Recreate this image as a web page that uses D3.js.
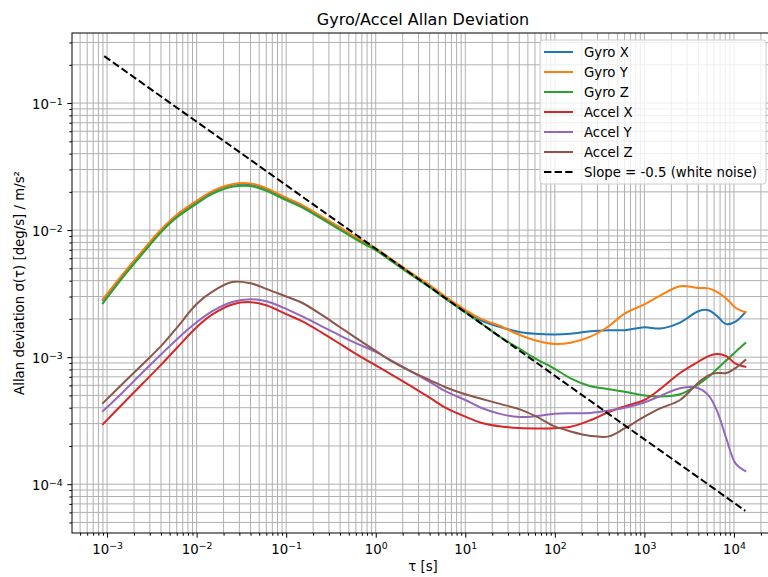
<!DOCTYPE html>
<html><head><meta charset="utf-8">
<script src="https://cdn.jsdelivr.net/npm/d3@7"></script>
<style>body{margin:0;background:#fff;overflow:hidden} text{font-family:"DejaVu Sans",sans-serif}</style>
</head><body><svg id="c" width="768" height="577"></svg>
<script>
// ---- data ----
const tau = [0.0009, 0.0015, 0.0025, 0.004, 0.006, 0.01, 0.015, 0.025, 0.04, 0.06,
  0.1, 0.15, 0.25, 0.4, 0.6, 1, 1.5, 2.5, 4, 6,
  10, 15, 25, 40, 60, 100, 150, 250, 400, 600,
  1000, 1500, 2500, 4000, 5200, 6500, 8200, 10400, 13400];
const gyroX = [2.82e-3, 4.45e-3, 6.8e-3, 9.95e-3, 1.30e-2, 1.675e-2, 2.0e-2, 2.27e-2, 2.3e-2, 2.11e-2,
  1.775e-2, 1.555e-2, 1.26e-2, 1.035e-2, 8.67e-3, 7.1e-3, 5.81e-3, 4.53e-3, 3.64e-3, 2.96e-3,
  2.32e-3, 1.95e-3, 1.72e-3, 1.58e-3, 1.53e-3, 1.51e-3, 1.53e-3, 1.6e-3, 1.63e-3, 1.63e-3,
  1.72e-3, 1.68e-3, 1.87e-3, 2.3e-3, 2.34e-3, 2.1e-3, 1.82e-3, 1.9e-3, 2.26e-3];
const gyroY = [2.86e-3, 4.5e-3, 6.9e-3, 1.01e-2, 1.32e-2, 1.70e-2, 2.03e-2, 2.30e-2, 2.33e-2, 2.14e-2,
  1.80e-2, 1.58e-2, 1.28e-2, 1.05e-2, 8.8e-3, 7.2e-3, 5.9e-3, 4.6e-3, 3.7e-3, 3.0e-3,
  2.36e-3, 2.0e-3, 1.75e-3, 1.5e-3, 1.36e-3, 1.27e-3, 1.3e-3, 1.45e-3, 1.75e-3, 2.2e-3,
  2.6e-3, 3.05e-3, 3.62e-3, 3.5e-3, 3.48e-3, 3.25e-3, 2.9e-3, 2.45e-3, 2.26e-3];
const gyroZ = [2.66e-3, 4.25e-3, 6.55e-3, 9.6e-3, 1.255e-2, 1.615e-2, 1.93e-2, 2.19e-2, 2.22e-2, 2.04e-2,
  1.72e-2, 1.51e-2, 1.225e-2, 1.005e-2, 8.45e-3, 6.95e-3, 5.7e-3, 4.43e-3, 3.55e-3, 2.88e-3,
  2.25e-3, 1.85e-3, 1.43e-3, 1.17e-3, 9.8e-4, 8.1e-4, 6.8e-4, 5.9e-4, 5.6e-4, 5.35e-4,
  5.0e-4, 4.9e-4, 5.1e-4, 6.1e-4, 7.0e-4, 8.1e-4, 9.4e-4, 1.1e-3, 1.29e-3];
const accelX = [2.97e-4, 4.3e-4, 6.2e-4, 8.7e-4, 1.18e-3, 1.72e-3, 2.17e-3, 2.6e-3, 2.71e-3, 2.56e-3,
  2.18e-3, 1.92e-3, 1.56e-3, 1.27e-3, 1.06e-3, 8.6e-4, 7.3e-4, 5.9e-4, 4.8e-4, 4.0e-4,
  3.4e-4, 3.05e-4, 2.85e-4, 2.77e-4, 2.75e-4, 2.76e-4, 2.83e-4, 3.19e-4, 3.7e-4, 4.1e-4,
  4.6e-4, 5.6e-4, 7.5e-4, 9.2e-4, 1.02e-3, 1.06e-3, 1.02e-3, 8.9e-4, 8.4e-4];
const accelY = [3.76e-4, 5.3e-4, 7.6e-4, 1.05e-3, 1.38e-3, 1.88e-3, 2.3e-3, 2.72e-3, 2.86e-3, 2.75e-3,
  2.4e-3, 2.1e-3, 1.75e-3, 1.48e-3, 1.29e-3, 1.1e-3, 9.4e-4, 7.7e-4, 6.4e-4, 5.4e-4,
  4.6e-4, 4.0e-4, 3.56e-4, 3.38e-4, 3.42e-4, 3.58e-4, 3.62e-4, 3.64e-4, 3.8e-4, 4.0e-4,
  4.4e-4, 4.95e-4, 5.7e-4, 5.7e-4, 5.0e-4, 3.75e-4, 2.3e-4, 1.46e-4, 1.27e-4];
const accelZ = [4.35e-4, 6.2e-4, 8.8e-4, 1.22e-3, 1.7e-3, 2.62e-3, 3.28e-3, 3.9e-3, 3.82e-3, 3.45e-3,
  3.0e-3, 2.68e-3, 2.15e-3, 1.72e-3, 1.42e-3, 1.12e-3, 9.3e-4, 7.7e-4, 6.6e-4, 5.8e-4,
  5.1e-4, 4.7e-4, 4.27e-4, 3.9e-4, 3.45e-4, 2.85e-4, 2.6e-4, 2.4e-4, 2.38e-4, 2.75e-4,
  3.4e-4, 3.95e-4, 4.6e-4, 6.3e-4, 7.2e-4, 7.5e-4, 7.5e-4, 8.2e-4, 9.5e-4];
const seriesNames = ["Gyro X", "Gyro Y", "Gyro Z", "Accel X", "Accel Y", "Accel Z"];
const seriesValues = [gyroX, gyroY, gyroZ, accelX, accelY, accelZ];
const seriesColors = ["#1f77b4", "#ff7f0e", "#2ca02c", "#d62728", "#9467bd", "#8c564b"];
const slopeName = "Slope = -0.5 (white noise)";
const slopeTau = [0.00093, 13400];
const slopeVal = [0.234, 6.17e-5];
const xTickVals = [1e-3, 1e-2, 1e-1, 1e0, 1e1, 1e2, 1e3, 1e4];
const yTickVals = [1e-4, 1e-3, 1e-2, 1e-1];

// ---- layout ----
const L = 72, T = 33, R = 774, B = 533;
const FS = 13.3, LW = 2.0, DASH = "7.4,3.2";
const svg = d3.select("#c");
const x = d3.scaleLog().domain([4.06e-4, 2.8e4]).range([L, R]);
const y = d3.scaleLog().domain([4.13e-5, 0.356]).range([B, T]);

function minorVals(sc) {
  const [a, b] = sc.domain().slice().sort((p, q) => p - q);
  const out = [];
  for (let e = Math.floor(Math.log10(a)); e <= Math.ceil(Math.log10(b)); e++)
    for (let k = 1; k <= 9; k++) { const v = k * Math.pow(10, e); if (v >= a && v <= b) out.push(v); }
  return out;
}
const xAll = minorVals(x), yAll = minorVals(y);
const isMajor = (v, arr) => arr.some(m => Math.abs(m - v) / m < 1e-6);

svg.append("defs").append("clipPath").attr("id", "clip")
  .append("rect").attr("x", L).attr("y", T).attr("width", R - L).attr("height", B - T);

// grid
const grid = svg.append("g").attr("stroke", "#b0b0b0").attr("stroke-width", 1.0);
grid.selectAll(".gx").data(xAll).join("line")
  .attr("x1", d => x(d)).attr("x2", d => x(d)).attr("y1", T).attr("y2", B);
grid.selectAll(".gy").data(yAll).join("line")
  .attr("y1", d => y(d)).attr("y2", d => y(d)).attr("x1", L).attr("x2", R);

// lines
const plot = svg.append("g").attr("clip-path", "url(#clip)");
const line = d3.line().x(d => x(d[0])).y(d => y(d[1])).curve(d3.curveCatmullRom.alpha(0.5));
seriesValues.forEach((vals, i) => {
  plot.append("path").datum(tau.map((t, j) => [t, vals[j]]))
    .attr("d", line).attr("fill", "none").attr("stroke", seriesColors[i]).attr("stroke-width", LW)
    .attr("stroke-linejoin", "round").attr("stroke-linecap", "square");
});
plot.append("path").datum(slopeTau.map((t, j) => [t, slopeVal[j]]))
  .attr("d", d3.line().x(d => x(d[0])).y(d => y(d[1])))
  .attr("fill", "none").attr("stroke", "#000").attr("stroke-width", LW).attr("stroke-dasharray", DASH);

// axes
function sup(sel) {
  sel.each(function (d) {
    const e = Math.round(Math.log10(d));
    const t = d3.select(this); t.text("");
    t.append("tspan").text("10");
    t.append("tspan").attr("dy", "-0.45em").attr("font-size", (FS * 0.7) + "px").text(e < 0 ? "\u2212" + (-e) : String(e));
  });
}
const gx = svg.append("g").attr("transform", `translate(0,${B})`);
gx.call(d3.axisBottom(x).tickValues(xAll.filter(v => !isMajor(v, xTickVals))).tickSize(2.7).tickFormat(""));
gx.select(".domain").remove();
const gx2 = svg.append("g").attr("transform", `translate(0,${B})`);
gx2.call(d3.axisBottom(x).tickValues(xTickVals).tickSize(4.7).tickFormat(d => d));
gx2.select(".domain").remove();
gx2.selectAll("text").attr("y", 20.5).attr("dy", null).attr("font-size", FS + "px").attr("fill", "#000").call(sup);

const gy = svg.append("g").attr("transform", `translate(${L},0)`);
gy.call(d3.axisLeft(y).tickValues(yAll.filter(v => !isMajor(v, yTickVals))).tickSize(2.7).tickFormat(""));
gy.select(".domain").remove();
const gy2 = svg.append("g").attr("transform", `translate(${L},0)`);
gy2.call(d3.axisLeft(y).tickValues(yTickVals).tickSize(4.7).tickPadding(4.7).tickFormat(d => d));
gy2.select(".domain").remove();
gy2.selectAll("text").attr("dy", "0.4em").attr("font-size", FS + "px").attr("fill", "#000").call(sup);
svg.selectAll(".tick line").attr("stroke", "#000").attr("stroke-width", 1);

// spines
svg.append("rect").attr("x", L).attr("y", T).attr("width", R - L).attr("height", B - T)
  .attr("fill", "none").attr("stroke", "#000").attr("stroke-width", 1.0);

// titles
svg.append("text").attr("x", (L + R) / 2).attr("y", 25).attr("text-anchor", "middle")
  .attr("font-size", "16px").attr("fill", "#000").text("Gyro/Accel Allan Deviation");
svg.append("text").attr("x", (L + R) / 2).attr("y", 571).attr("text-anchor", "middle")
  .attr("font-size", FS + "px").attr("fill", "#000").text("τ [s]");
svg.append("text").attr("transform", `translate(24,${(T + B) / 2}) rotate(-90)`).attr("text-anchor", "middle")
  .attr("font-size", FS + "px").attr("fill", "#000").text("Allan deviation σ(τ) [deg/s] / m/s²");

// legend
const lg = svg.append("g");
lg.append("rect").attr("x", 540).attr("y", 40).attr("width", 226).attr("height", 144).attr("rx", 3)
  .attr("fill", "#fff").attr("fill-opacity", 0.8).attr("stroke", "#cccccc").attr("stroke-width", 1);
const items = seriesNames.map((n, i) => ({ n, c: seriesColors[i], dash: null }))
  .concat([{ n: slopeName, c: "#000", dash: DASH }]);
items.forEach((it, i) => {
  const yy = 52 + i * 20;
  lg.append("line").attr("x1", 544).attr("x2", 573).attr("y1", yy).attr("y2", yy)
    .attr("stroke", it.c).attr("stroke-width", LW).attr("stroke-dasharray", it.dash);
  lg.append("text").attr("x", 584).attr("y", yy + 4.7).attr("font-size", FS + "px").attr("fill", "#000").text(it.n);
});
</script></body></html>
